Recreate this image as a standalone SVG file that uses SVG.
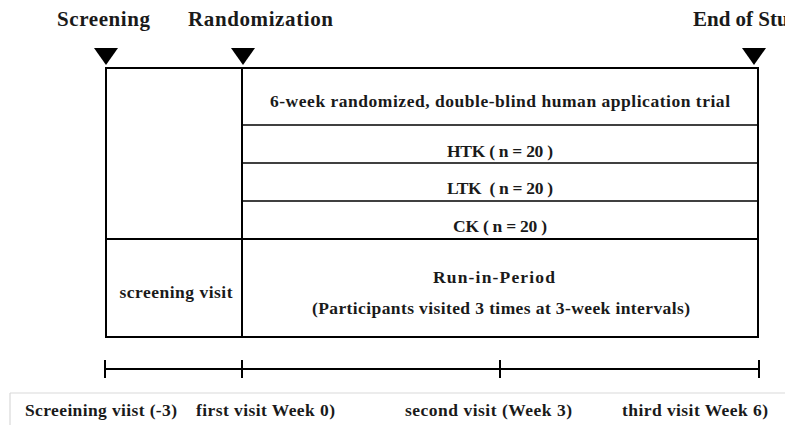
<svg xmlns="http://www.w3.org/2000/svg" width="785" height="425" viewBox="0 0 785 425">
<style>
  text { font-family: "Liberation Serif", "Times New Roman", serif; font-weight: bold; fill: #1a1a1a; }
  .lbl { font-size: 21px; }
  .cell { font-size: 17.5px; text-anchor: middle; }
  .bot { font-size: 17.5px; }
  .frame { fill: none; stroke: #000; stroke-width: 2; }
  .row { stroke: #000; stroke-width: 1.6; }
  .axis { stroke: #000; stroke-width: 2; fill: none; }
  .grid { stroke: #d9d9d9; stroke-width: 1.2; }
</style>
<rect width="785" height="425" fill="#fff"/>
<g id="milestones">
  <text class="lbl" x="57" y="26" textLength="93">Screening</text>
  <text class="lbl" x="188" y="26" textLength="145">Randomization</text>
  <text class="lbl" x="693" y="26">End of Study</text>
  <polygon points="94,48 118,48 106,65" fill="#000"/>
  <polygon points="231,48 255,48 243,65" fill="#000"/>
  <polygon points="742,48 766,48 754,65" fill="#000"/>
</g>
<g id="table">
  <rect class="frame" x="106" y="68" width="652" height="269"/>
  <line class="frame" x1="242" y1="68" x2="242" y2="337"/>
  <line class="row" x1="242" y1="125" x2="758" y2="125"/>
  <line class="row" x1="242" y1="163" x2="758" y2="163"/>
  <line class="row" x1="242" y1="201" x2="758" y2="201"/>
  <line class="frame" x1="106" y1="239" x2="758" y2="239"/>
</g>
<g id="trial">
  <text class="cell" x="500" y="107" textLength="460">6-week randomized, double-blind human application trial</text>
</g>
<g id="htk"><text class="cell" x="500" y="157" textLength="106">HTK ( n = 20 )</text></g>
<g id="ltk"><text class="cell" x="500" y="194" textLength="106" xml:space="preserve">LTK  ( n = 20 )</text></g>
<g id="ck"><text class="cell" x="500" y="232" textLength="94">CK ( n = 20 )</text></g>
<g id="screening-visit"><text class="cell" x="176" y="298" textLength="113">screening visit</text></g>
<g id="run-in">
  <text class="cell" x="494" y="283" textLength="122">Run-in-Period</text>
  <text class="cell" x="501" y="314" textLength="378">(Participants visited 3 times at 3-week intervals)</text>
</g>
<g id="timeline">
  <line class="axis" x1="105" y1="369" x2="759" y2="369"/>
  <line class="axis" x1="105" y1="360" x2="105" y2="378"/>
  <line class="axis" x1="242" y1="360" x2="242" y2="378"/>
  <line class="axis" x1="500" y1="360" x2="500" y2="378"/>
  <line class="axis" x1="759" y1="360" x2="759" y2="378"/>
</g>
<g id="visits">
  <line class="grid" x1="10" y1="393" x2="785" y2="393"/>
  <line class="grid" x1="10" y1="393" x2="10" y2="425"/>
  <text class="bot" x="25" y="416" textLength="152">Screeining viist (-3)</text>
  <text class="bot" x="196" y="416" textLength="139">first visit Week 0)</text>
  <text class="bot" x="405" y="416" textLength="167">second visit (Week 3)</text>
  <text class="bot" x="622" y="416" textLength="146">third visit Week 6)</text>
</g>
</svg>
